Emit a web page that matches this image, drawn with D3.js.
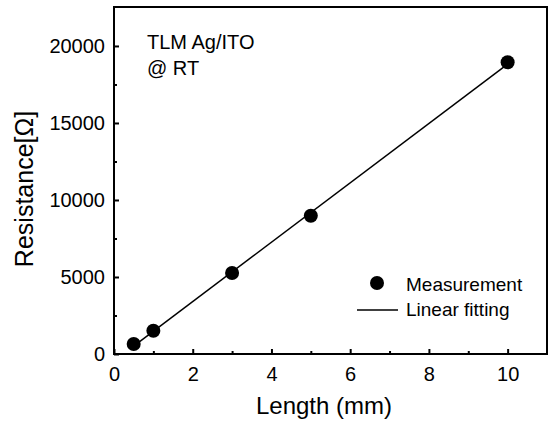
<!DOCTYPE html>
<html>
<head>
<meta charset="utf-8">
<script src="https://cdn.jsdelivr.net/npm/d3@7"></script>
<style>
  body { margin: 0; background: #fff; }
  svg { display: block; font-family: "Liberation Sans", Arial, sans-serif; }
</style>
</head>
<body>
<div id="chart"></div>
<script>
// data
const lengths = [0.5, 1, 3, 5, 10];            // mm
const resistances = [650, 1513, 5260, 8980, 18940]; // ohm
const fitSlope = 1927, fitIntercept = -447;
const fitRange = [0.5, 10];
const xMajorTicks = [0, 2, 4, 6, 8, 10];
const xMinorTicks = [1, 3, 5, 7, 9];
const yMajorTicks = [0, 5000, 10000, 15000, 20000];
const yMinorTicks = [2500, 7500, 12500, 17500];
const notes = ["TLM Ag/ITO", "@ RT"];
const legendLabels = ["Measurement", "Linear fitting"];

function drawChart(cWidth, cHeight) {
  const margin = { left: 114, top: 7, right: 3, bottom: 71 },
    w = cWidth - margin.left - margin.right,
    h = cHeight - margin.top - margin.bottom,
    svg = d3
      .select("#chart")
      .append("svg")
      .attr("width", cWidth)
      .attr("height", cHeight);

  const g = svg
      .append("g")
      .attr("transform", `translate(${margin.left}, ${margin.top})`),
    x = d3.scaleLinear().domain([0, 11]).range([0, w]),
    y = d3.scaleLinear().domain([0, 22530]).range([h, 0]);

  // minor ticks
  const xMinor = g
    .append("g")
    .attr("transform", `translate(0, ${h})`)
    .call(d3.axisBottom(x).tickValues(xMinorTicks).tickSize(-3).tickFormat(""));
  const yMinor = g
    .append("g")
    .call(d3.axisLeft(y).tickValues(yMinorTicks).tickSize(-3).tickFormat(""));

  // major ticks
  const xAxis = g
    .append("g")
    .attr("transform", `translate(0, ${h})`)
    .call(d3.axisBottom(x).tickValues(xMajorTicks).tickSize(-5).tickPadding(13).tickFormat(d3.format("d")));
  const yAxis = g
    .append("g")
    .call(d3.axisLeft(y).tickValues(yMajorTicks).tickSize(-5).tickPadding(9).tickFormat(d3.format("d")));

  [xMinor, yMinor, xAxis, yAxis].forEach(a => {
    a.select(".domain").remove();
    a.selectAll(".tick line").attr("stroke", "#000").attr("stroke-width", 2);
  });
  [xAxis, yAxis].forEach(a => {
    a.selectAll(".tick text")
      .attr("fill", "#000")
      .style("font-size", "20px")
      .style("font-family", "'Liberation Sans', Arial, sans-serif");
  });

  // frame
  g.append("rect")
    .attr("width", w)
    .attr("height", h)
    .attr("fill", "none")
    .attr("stroke", "#000")
    .attr("stroke-width", 2);

  // fit line
  g.append("path")
    .datum(fitRange)
    .attr("fill", "none")
    .attr("stroke", "#000")
    .attr("stroke-width", 1.5)
    .attr(
      "d",
      d3
        .line()
        .x(d => x(d))
        .y(d => y(fitSlope * d + fitIntercept))
    );

  // points
  g.selectAll(".pt")
    .data(lengths)
    .enter()
    .append("circle")
    .attr("class", "pt")
    .attr("cx", d => x(d))
    .attr("cy", (d, i) => y(resistances[i]))
    .attr("r", 7)
    .attr("fill", "#000");

  // notes
  g.selectAll(".note")
    .data(notes)
    .enter()
    .append("text")
    .attr("x", 33)
    .attr("y", (d, i) => 42 + i * 26)
    .style("font-size", "20px")
    .text(d => d);

  // legend
  const lg = g.append("g").attr("transform", `translate(${377 - margin.left}, ${283 - margin.top})`);
  lg.append("circle").attr("cx", 0).attr("cy", 0).attr("r", 7).attr("fill", "#000");
  lg.append("line")
    .attr("x1", -20).attr("x2", 21)
    .attr("y1", 27).attr("y2", 27)
    .attr("stroke", "#000").attr("stroke-width", 1.5);
  lg.selectAll("text")
    .data(legendLabels)
    .enter()
    .append("text")
    .attr("x", 29)
    .attr("y", (d, i) => 8 + i * 25)
    .style("font-size", "19px")
    .text(d => d);

  // axis titles
  svg.append("text")
    .attr("x", 324)
    .attr("y", 414)
    .attr("text-anchor", "middle")
    .style("font-size", "24px")
    .text("Length (mm)");
  svg.append("text")
    .attr("transform", "translate(33, 189) rotate(-90)")
    .attr("text-anchor", "middle")
    .style("font-size", "25px")
    .text("Resistance[Ω]");
}

drawChart(550, 425);
</script>
</body>
</html>
